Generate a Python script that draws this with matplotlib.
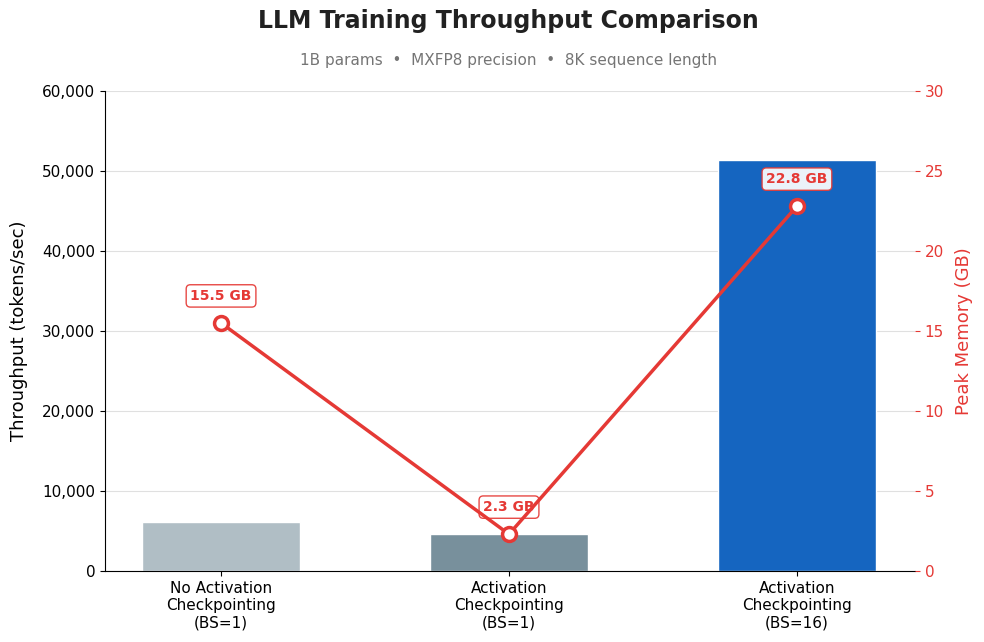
import matplotlib
matplotlib.use("Agg")
import matplotlib.pyplot as plt
from matplotlib.ticker import FuncFormatter

categories = ["No Activation\nCheckpointing\n(BS=1)", "Activation\nCheckpointing\n(BS=1)", "Activation\nCheckpointing\n(BS=16)"]
throughput = [6100, 4600, 51400]
memory_gb = [15.5, 2.3, 22.8]
bar_colors = ["#B0BEC5", "#78909C", "#1565C0"]
line_color = "#E53935"

fig = plt.figure(figsize=(9.84, 6.42), dpi=100)
ax = fig.add_axes([105/984, 1-571/642, (915-105)/984, (571-91)/642])
x = list(range(len(categories)))
ax.bar(x, throughput, width=0.55, color=bar_colors, edgecolor="white", linewidth=1, zorder=2)
ax.set_ylim(0, 60000)
ax.set_xlim(-0.403, 2.41)
ax.set_xticks(x)
ax.set_xticklabels(categories, fontsize=11)
ax.yaxis.set_major_formatter(FuncFormatter(lambda v, p: f"{int(v):,}"))
ax.tick_params(axis="y", labelsize=11)
ax.set_ylabel("Throughput (tokens/sec)", fontsize=13, labelpad=10)
ax.grid(axis="y", color="#E0E0E0", linewidth=0.8, zorder=0)
ax.set_axisbelow(True)
ax.spines["top"].set_visible(False)
ax.spines["right"].set_visible(False)

ax2 = ax.twinx()
ax2.plot(x, memory_gb, color=line_color, linewidth=2.5, marker="o", markersize=10,
         markerfacecolor="white", markeredgecolor=line_color, markeredgewidth=2.5, zorder=5)
ax2.set_ylim(0, 30)
ax2.set_ylabel("Peak Memory (GB)", fontsize=13, color=line_color, labelpad=8)
ax2.tick_params(axis="y", colors=line_color, labelsize=11)
for s in ["top", "right", "left", "bottom"]:
    ax2.spines[s].set_visible(False)
for xi, m in zip(x, memory_gb):
    ax2.annotate(f"{m} GB", (xi, m), xytext=(0, 19.5), textcoords="offset points",
                 ha="center", va="center", fontsize=10, fontweight="bold", color=line_color,
                 bbox=dict(boxstyle="round,pad=0.3", facecolor="white", edgecolor=line_color,
                           linewidth=1, alpha=0.92))

cx = 508 / 984
fig.text(cx, 1-21/642, "LLM Training Throughput Comparison", ha="center", va="center",
         fontsize=17, fontweight="bold", color="#212121")
fig.text(cx, 1-61/642, "1B params  •  MXFP8 precision  •  8K sequence length", ha="center",
         va="center", fontsize=11, color="#757575")

fig.savefig("out.png", dpi=100)
